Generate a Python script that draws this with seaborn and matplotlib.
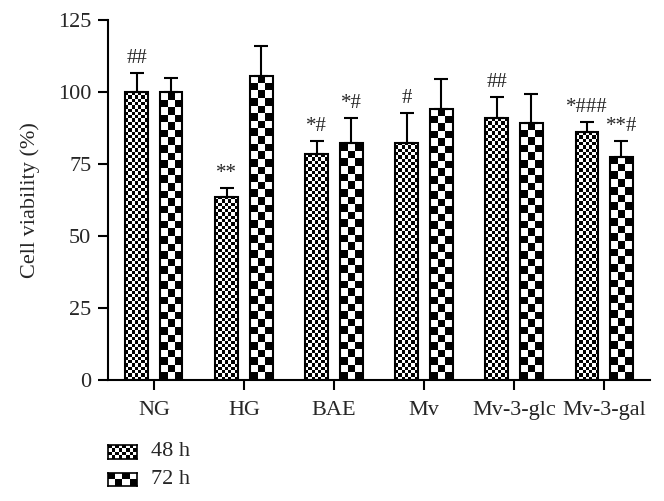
import numpy as np
import pandas as pd
import matplotlib
matplotlib.use("Agg")
import matplotlib.pyplot as plt
import seaborn as sns

groups = ["NG", "HG", "BAE", "Mv", "Mv-3-glc", "Mv-3-gal"]
times = ["48 h", "72 h"]
vals_48 = [100.0, 63.6, 78.4, 82.4, 90.9, 86.1]
vals_72 = [100.0, 105.6, 82.2, 94.1, 89.3, 77.5]
err_48 = [6.6, 3.0, 4.6, 10.2, 7.5, 3.4]
err_72 = [4.8, 10.4, 8.9, 10.4, 10.0, 5.4]
marks_48 = ["##", "**", "*#", "#", "##", "*###"]
marks_72 = ["", "", "*#", "", "", "**#"]
yticks = [0, 25, 50, 75, 100, 125]

df = pd.DataFrame({
    "group": groups * 2,
    "time": [times[0]] * 6 + [times[1]] * 6,
    "value": vals_48 + vals_72,
})

sns.set_style("ticks")
plt.rcParams["font.family"] = ["Liberation Serif", "DejaVu Serif"]

fig = plt.figure(figsize=(6.64, 5.01), dpi=100)
ax = fig.add_axes([108 / 664, 1 - 380 / 501, 542 / 664, 360 / 501])

sns.barplot(data=df, x="group", y="value", hue="time", order=groups,
            hue_order=times, palette={t: "white" for t in times},
            width=0.76, gap=0.33, edgecolor="black", linewidth=1.5,
            errorbar=None, legend=False, ax=ax)

ax.set_xlim(-0.51, 5.51)
ax.set_ylim(0, 125)

px_x = 542 / 6.02
px_y = 360 / 125.0
sq_sizes = [3.3, 7.6]
errs = [err_48, err_72]
marks = [marks_48, marks_72]

bar_containers = list(ax.containers)
for hi, cont in enumerate(bar_containers):
    sq = sq_sizes[hi]
    xs = []
    tops = []
    for bar in cont.patches:
        x0 = bar.get_x()
        w = bar.get_width()
        h = bar.get_height()
        ncols = max(1, int(round(w * px_x / sq)))
        nrows = max(1, int(round(h * px_y / sq)))
        arr = (np.add.outer(np.arange(nrows), np.arange(ncols)) % 2).astype(float)
        im = ax.imshow(arr, extent=[x0, x0 + w, 0, h], cmap="gray", vmin=0, vmax=1,
                       interpolation="nearest", aspect="auto", zorder=0.9, origin="lower")
        im.set_clip_path(bar)
        bar.set_facecolor("none")
        bar.set_zorder(1.5)
        xs.append(x0 + w / 2)
        tops.append(h)
    e = errs[hi]
    ax.errorbar(xs, tops, yerr=[np.zeros(len(e)), e], fmt="none", ecolor="black",
                elinewidth=1.5, capsize=5, capthick=1.5, zorder=1.2)
    for x, t, ee, m in zip(xs, tops, e, marks[hi]):
        if m:
            ax.text(x, t + ee + 5, m, ha="center", va="center", fontsize=15)

ax.set_xlim(-0.51, 5.51)
ax.set_ylim(0, 125)
ax.set_yticks(yticks)
ax.set_xlabel("")
ax.set_ylabel("Cell viability (%)", fontsize=16, labelpad=13)
ax.tick_params(axis="both", labelsize=16, length=7, width=1.5, color="black")
ax.tick_params(axis="x", pad=8)
ax.tick_params(axis="y", pad=5)
for s in ["left", "bottom"]:
    ax.spines[s].set_linewidth(1.5)
    ax.spines[s].set_color("black")
sns.despine(ax=ax)

# legend
leg_specs = [(445, 459, 8, 4, "48 h"), (473, 486, 4, 2, "72 h")]
for top, bot, nc, nr, lab in leg_specs:
    lax = fig.add_axes([108 / 664, 1 - bot / 501, 29 / 664, (bot - top) / 501])
    arr = (np.add.outer(np.arange(nr), np.arange(nc)) % 2).astype(float)
    lax.imshow(arr, cmap="gray", vmin=0, vmax=1, interpolation="nearest", aspect="auto")
    lax.set_xticks([])
    lax.set_yticks([])
    for s in lax.spines.values():
        s.set_visible(True)
        s.set_linewidth(1.2)
        s.set_color("black")
    fig.text(151 / 664, 1 - (top + bot) / 2 / 501, lab, ha="left", va="center", fontsize=16)

fig.savefig("out.png", dpi=100)
